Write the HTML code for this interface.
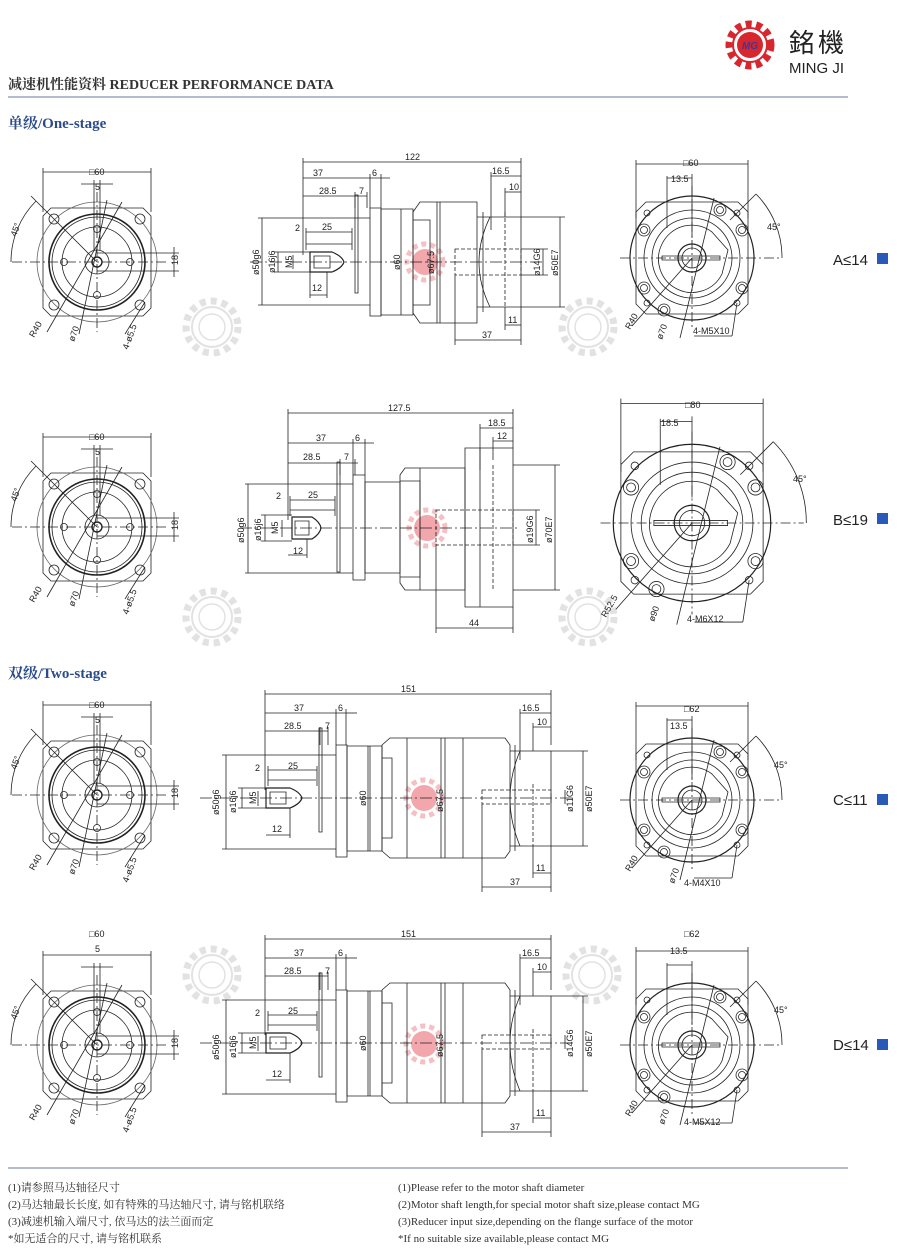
<!DOCTYPE html>
<html><head><meta charset="utf-8"><style>
html,body{margin:0;padding:0;background:#fff}
svg{display:block}
svg *{vector-effect:non-scaling-stroke}
.t{font-family:"Liberation Sans Narrow","Liberation Sans",sans-serif;font-size:9px;fill:#222}
.sf{font-family:"Liberation Serif","Noto Serif CJK SC",serif}
</style></head><body>
<svg width="900" height="1260" viewBox="0 0 900 1260" xmlns="http://www.w3.org/2000/svg">
<defs>
<g id="wm" fill="none" stroke="#e2e2e2">
 <circle r="26" stroke-width="7" stroke-dasharray="6 5"/>
 <circle r="20" stroke-width="2"/>
 <circle r="13" stroke-width="1.5"/>
</g>
<g id="wr" fill="none">
 <circle r="18" stroke="#f4c0c4" stroke-width="5" stroke-dasharray="5 4"/>
 <circle r="13" fill="#f2a7ad" stroke="none"/>
</g>
<g id="front" fill="none" stroke="#222" stroke-width="0.8">
 <line x1="-54" y1="-90" x2="54" y2="-90"/>
 <line x1="-54" y1="-94" x2="-54" y2="-50"/><line x1="54" y1="-94" x2="54" y2="-50"/>
 <path d="M-46,-54 L46,-54 L54,-46 L54,46 L46,54 L-46,54 L-54,46 L-54,-46Z"/>
 <circle r="60" stroke="#666"/>
 <circle r="48" stroke-width="1.6"/>
 <circle r="45"/>
 <circle r="35"/>
 <circle r="12"/>
 <circle r="5" stroke-width="1.4"/>
 <circle cx="-43" cy="-43" r="5"/><circle cx="43" cy="-43" r="5"/><circle cx="-43" cy="43" r="5"/><circle cx="43" cy="43" r="5"/>
 <circle cx="0" cy="-33" r="3.5"/><circle cx="0" cy="33" r="3.5"/><circle cx="-33" cy="0" r="3.5"/><circle cx="33" cy="0" r="3.5"/>
 <line x1="-85" y1="0" x2="70" y2="0" stroke-dasharray="10 3 2 3"/>
 <line x1="0" y1="-70" x2="0" y2="70" stroke-dasharray="10 3 2 3"/>
 <line x1="-3" y1="-82" x2="-3" y2="-12"/><line x1="3" y1="-82" x2="3" y2="-12"/>
 <line x1="-16" y1="-78" x2="16" y2="-78"/>
 <line x1="0" y1="-9" x2="82" y2="-9"/><line x1="0" y1="9" x2="82" y2="9"/>
 <line x1="77" y1="-15" x2="77" y2="15"/>
 <path d="M-86,0 A86,86 0 0 1 -61,-61"/>
 <line x1="0" y1="0" x2="-66" y2="-66"/>
 <line x1="25" y1="-60" x2="-50" y2="70"/>
 <line x1="10" y1="-62" x2="-18" y2="72"/>
 <line x1="48" y1="40" x2="28" y2="72"/>
</g>
<g id="back" fill="none" stroke="#222" stroke-width="0.8">
 <line x1="-56" y1="-94" x2="56" y2="-94"/>
 <line x1="-56" y1="-98" x2="-56" y2="-40"/><line x1="56" y1="-98" x2="56" y2="-40"/>
 <line x1="-25" y1="-80" x2="0" y2="-80"/><line x1="-25" y1="-82" x2="-25" y2="-30"/><line x1="0" y1="-84" x2="0" y2="-20"/>
 <path d="M-46,-56 L46,-56 L56,-46 L56,46 L46,56 L-46,56 L-56,46 L-56,-46Z"/>
 <circle r="62" stroke-width="1.2"/>
 <circle r="48"/>
 <circle r="40"/>
 <path d="M-30,-14 A33,33 0 0 1 20,-26 L36,-8 L30,16 A33,33 0 0 1 -30,-14Z"/>
 <circle r="14" stroke-width="1.2"/>
 <circle r="10"/>
 <rect x="-30" y="-2" width="58" height="4"/>
 <g>
  <circle cx="28" cy="-48" r="6"/><circle cx="28" cy="-48" r="3.5"/>
  <circle cx="50" cy="-28" r="6"/><circle cx="50" cy="-28" r="3.5"/>
  <circle cx="-48" cy="-28" r="6"/><circle cx="-48" cy="-28" r="3.5"/>
  <circle cx="-48" cy="30" r="6"/><circle cx="-48" cy="30" r="3.5"/>
  <circle cx="50" cy="30" r="6"/><circle cx="50" cy="30" r="3.5"/>
  <circle cx="-28" cy="52" r="6"/><circle cx="-28" cy="52" r="3.5"/>
 </g>
 <circle cx="-45" cy="-45" r="3"/><circle cx="45" cy="-45" r="3"/><circle cx="-45" cy="45" r="3"/><circle cx="45" cy="45" r="3"/>
 <line x1="-72" y1="0" x2="88" y2="0" stroke-dasharray="10 3 2 3"/>
 <line x1="0" y1="-72" x2="0" y2="72" stroke-dasharray="10 3 2 3"/>
 <line x1="38" y1="-38" x2="64" y2="-64"/>
 <path d="M64,-64 A90,90 0 0 1 90,0"/>
 <line x1="0" y1="0" x2="-60" y2="68"/>
 <line x1="22" y1="-60" x2="-12" y2="80"/>
 <line x1="45" y1="45" x2="40" y2="78"/><line x1="2" y1="78" x2="40" y2="78"/>
</g>
<g id="s2" fill="none" stroke="#222" stroke-width="0.8">
 <line x1="265" y1="694" x2="551" y2="694"/>
 <line x1="265" y1="690" x2="265" y2="790"/><line x1="551" y1="690" x2="551" y2="745"/>
 <line x1="265" y1="713" x2="346" y2="713"/><line x1="336" y1="709" x2="336" y2="745"/><line x1="346" y1="709" x2="346" y2="745"/><line x1="346" y1="713" x2="357" y2="713"/>
 <line x1="265" y1="731" x2="328" y2="731"/><line x1="320" y1="727" x2="320" y2="745"/><line x1="328" y1="727" x2="328" y2="745"/>
 <rect x="319" y="728" width="3" height="104"/>
 <line x1="222" y1="755" x2="336" y2="755"/><line x1="222" y1="849" x2="336" y2="849"/>
 <line x1="226" y1="755" x2="226" y2="849"/>
 <line x1="238" y1="788" x2="266" y2="788"/><line x1="238" y1="808" x2="266" y2="808"/>
 <line x1="242" y1="788" x2="242" y2="808"/>
 <line x1="258" y1="791" x2="258" y2="806"/>
 <line x1="268" y1="770" x2="317" y2="770"/><line x1="268" y1="766" x2="268" y2="786"/><line x1="317" y1="766" x2="317" y2="786"/>
 <line x1="268" y1="780" x2="316" y2="780"/>
 <path d="M266,788 L290,788 Q300,792 302,798 Q300,804 290,808 L266,808Z" stroke-width="1.2"/>
 <rect x="270" y="792" width="16" height="12"/>
 <line x1="266" y1="835" x2="290" y2="835"/><line x1="290" y1="808" x2="290" y2="838"/>
 <rect x="336" y="745" width="11" height="112"/>
 <rect x="347" y="746" width="35" height="105"/>
 <line x1="370" y1="746" x2="370" y2="851"/>
 <path d="M382,745 L390,738 L505,738 L510,745 L510,851 L505,858 L390,858 L382,851Z"/>
 <path d="M382,758 L392,758 L392,838 L382,838"/>
 <line x1="407" y1="738" x2="407" y2="858"/>
 <line x1="441" y1="738" x2="441" y2="858"/><line x1="463" y1="738" x2="463" y2="858"/>
 <path d="M510,751 L551,751 L551,846 L510,846"/>
 <path d="M520,751 Q500,798 520,846"/>
 <line x1="515" y1="745" x2="515" y2="851"/>
 <rect x="482" y="790" width="69" height="14" stroke-dasharray="4 2"/>
 <line x1="533" y1="784" x2="533" y2="846" stroke-dasharray="4 2"/>
 <line x1="200" y1="798" x2="575" y2="798" stroke-dasharray="12 3 2 3"/>
 <line x1="520" y1="713" x2="551" y2="713"/><line x1="520" y1="709" x2="520" y2="760"/>
 <line x1="533" y1="727" x2="551" y2="727"/><line x1="533" y1="723" x2="533" y2="751"/>
 <line x1="533" y1="873" x2="551" y2="873"/><line x1="533" y1="846" x2="533" y2="878"/><line x1="551" y1="846" x2="551" y2="892"/>
 <line x1="482" y1="887" x2="551" y2="887"/><line x1="482" y1="804" x2="482" y2="892"/>
 <line x1="368" y1="746" x2="368" y2="851"/>
 <line x1="445" y1="738" x2="445" y2="858"/>
 <line x1="565" y1="790" x2="565" y2="804"/>
 <line x1="583" y1="751" x2="583" y2="846"/><line x1="551" y1="751" x2="588" y2="751"/><line x1="551" y1="846" x2="588" y2="846"/>
</g>
</defs>

<!-- header -->
<g transform="translate(750,45)">
 <circle r="21" fill="none" stroke="#d8262e" stroke-width="7" stroke-dasharray="6 4.5"/>
 <circle r="17" fill="none" stroke="#d8262e" stroke-width="2"/>
 <circle r="13" fill="#d8262e"/>
 <text x="0" y="4" text-anchor="middle" font-family="Liberation Sans,sans-serif" font-size="10" font-style="italic" font-weight="bold" fill="#3a3a9a">MG</text>
</g>
<text x="789" y="52" font-family="'Noto Sans CJK TC',sans-serif" font-size="26" fill="#222" letter-spacing="3">銘機</text>
<text x="789" y="73" font-family="Liberation Sans,sans-serif" font-size="15" fill="#222">MING JI</text>
<text x="8" y="89" class="sf" font-size="14" font-weight="bold" fill="#333">减速机性能资料 REDUCER PERFORMANCE DATA</text>
<line x1="8" y1="97" x2="848" y2="97" stroke="#9aa6bd" stroke-width="1.5"/>
<text x="8" y="128" class="sf" font-size="15" font-weight="bold" fill="#2b4c8c">单级/One-stage</text>
<text x="8" y="678" class="sf" font-size="15" font-weight="bold" fill="#2b4c8c">双级/Two-stage</text>

<!-- watermarks -->
<use href="#wm" x="212" y="327"/><use href="#wm" x="588" y="327"/>
<use href="#wm" x="212" y="617"/><use href="#wm" x="588" y="617"/>
<use href="#wm" x="212" y="975"/><use href="#wm" x="592" y="975"/>
<use href="#wr" x="425" y="262"/><use href="#wr" x="427" y="528"/>
<use href="#wr" x="424" y="798"/><use href="#wr" x="424" y="1044"/>

<!-- Row A -->
<use href="#front" x="97" y="262"/>
<g class="t">
 <text x="89" y="175">□60</text><text x="95" y="190">5</text>
 <text transform="translate(178,265) rotate(-90)">18</text>
 <text transform="translate(16,237) rotate(-70)">45°</text>
 <text transform="translate(34,338) rotate(-60)">R40</text>
 <text transform="translate(74,342) rotate(-70)">ø70</text>
 <text transform="translate(128,350) rotate(-70)">4-ø5.5</text>
</g>
<g fill="none" stroke="#222" stroke-width="0.8">
 <line x1="303" y1="162" x2="521" y2="162"/><line x1="303" y1="158" x2="303" y2="255"/><line x1="521" y1="158" x2="521" y2="217"/>
 <line x1="303" y1="178" x2="390" y2="178"/><line x1="370" y1="174" x2="370" y2="208"/><line x1="381" y1="174" x2="381" y2="208"/>
 <line x1="303" y1="196" x2="367" y2="196"/><line x1="355" y1="192" x2="355" y2="208"/><line x1="367" y1="192" x2="367" y2="208"/>
 <rect x="355" y="195" width="3" height="98"/>
 <line x1="258" y1="218" x2="370" y2="218"/><line x1="258" y1="305" x2="370" y2="305"/><line x1="262" y1="218" x2="262" y2="305"/>
 <line x1="274" y1="252" x2="310" y2="252"/><line x1="274" y1="272" x2="310" y2="272"/><line x1="278" y1="252" x2="278" y2="272"/>
 <line x1="293" y1="255" x2="293" y2="269"/>
 <line x1="306" y1="232" x2="352" y2="232"/><line x1="306" y1="228" x2="306" y2="250"/><line x1="352" y1="228" x2="352" y2="250"/>
 <line x1="306" y1="244" x2="352" y2="244"/>
 <path d="M310,252 L332,252 Q342,256 344,262 Q342,268 332,272 L310,272Z" stroke-width="1.2"/>
 <rect x="314" y="256" width="16" height="12"/>
 <line x1="310" y1="295" x2="327" y2="295"/><line x1="327" y1="272" x2="327" y2="298"/><line x1="310" y1="272" x2="310" y2="298"/>
 <rect x="370" y="208" width="11" height="108"/>
 <rect x="381" y="209" width="32" height="106"/>
 <line x1="401" y1="209" x2="401" y2="315"/>
 <path d="M413,212 L420,202 L477,202 L477,323 L420,323 L413,313Z"/>
 <path d="M413,220 L430,220 L430,305 L413,305"/>
 <line x1="437" y1="202" x2="437" y2="323"/><line x1="440" y1="202" x2="440" y2="323"/>
 <path d="M477,217 L521,217 L521,307 L477,307"/>
 <path d="M490,217 Q468,262 490,307"/>
 <line x1="483" y1="212" x2="483" y2="312"/>
 <rect x="455" y="249" width="66" height="26" stroke-dasharray="4 2"/>
 <line x1="505" y1="212" x2="505" y2="307" stroke-dasharray="4 2"/>
 <line x1="250" y1="262" x2="545" y2="262" stroke-dasharray="12 3 2 3"/>
 <line x1="491" y1="176" x2="521" y2="176"/><line x1="491" y1="172" x2="491" y2="230"/>
 <line x1="505" y1="192" x2="521" y2="192"/><line x1="505" y1="188" x2="505" y2="217"/>
 <line x1="505" y1="325" x2="521" y2="325"/><line x1="505" y1="307" x2="505" y2="330"/><line x1="521" y1="307" x2="521" y2="345"/>
 <line x1="455" y1="340" x2="521" y2="340"/><line x1="455" y1="275" x2="455" y2="345"/>
 <line x1="543" y1="249" x2="543" y2="275"/><line x1="521" y1="249" x2="548" y2="249"/><line x1="521" y1="275" x2="548" y2="275"/>
 <line x1="560" y1="217" x2="560" y2="307"/><line x1="521" y1="217" x2="565" y2="217"/><line x1="521" y1="307" x2="565" y2="307"/>
</g>
<g class="t">
 <text x="405" y="160">122</text><text x="313" y="176">37</text><text x="372" y="176">6</text>
 <text x="319" y="194">28.5</text><text x="359" y="194">7</text>
 <text x="295" y="231">2</text><text x="322" y="230">25</text><text x="312" y="291">12</text>
 <text x="492" y="174">16.5</text><text x="509" y="190">10</text><text x="508" y="323">11</text><text x="482" y="338">37</text>
 <text transform="translate(259,275) rotate(-90)">ø50g6</text>
 <text transform="translate(275,273) rotate(-90)">ø16j6</text>
 <text transform="translate(292,268) rotate(-90)">M5</text>
 <text transform="translate(400,270) rotate(-90)">ø60</text>
 <text transform="translate(434,274) rotate(-90)">ø67.5</text>
 <text transform="translate(540,276) rotate(-90)">ø14G6</text>
 <text transform="translate(558,276) rotate(-90)">ø50E7</text>
</g>
<use href="#back" x="692" y="258"/>
<g class="t">
 <text x="683" y="166">□60</text><text x="671" y="182">13.5</text>
 <text x="767" y="230">45°</text>
 <text transform="translate(630,330) rotate(-60)">R40</text>
 <text transform="translate(662,340) rotate(-70)">ø70</text>
 <text x="693" y="334">4-M5X10</text>
</g>
<text x="833" y="265" font-family="Liberation Sans,sans-serif" font-size="15" fill="#222">A≤14</text>
<rect x="877" y="253" width="11" height="11" fill="#2a5ab8"/>

<!-- Row B -->
<use href="#front" x="97" y="527"/>
<g class="t">
 <text x="89" y="440">□60</text><text x="95" y="455">5</text>
 <text transform="translate(178,530) rotate(-90)">18</text>
 <text transform="translate(16,502) rotate(-70)">45°</text>
 <text transform="translate(34,603) rotate(-60)">R40</text>
 <text transform="translate(74,607) rotate(-70)">ø70</text>
 <text transform="translate(128,615) rotate(-70)">4-ø5.5</text>
</g>
<g fill="none" stroke="#222" stroke-width="0.8">
 <line x1="288" y1="413" x2="513" y2="413"/><line x1="288" y1="409" x2="288" y2="520"/><line x1="513" y1="409" x2="513" y2="448"/>
 <line x1="288" y1="443" x2="374" y2="443"/><line x1="353" y1="439" x2="353" y2="475"/><line x1="365" y1="439" x2="365" y2="475"/>
 <line x1="288" y1="463" x2="358" y2="463"/><line x1="340" y1="459" x2="340" y2="475"/><line x1="355" y1="459" x2="355" y2="475"/>
 <rect x="337" y="462" width="3" height="110"/>
 <line x1="245" y1="484" x2="353" y2="484"/><line x1="245" y1="573" x2="353" y2="573"/><line x1="248" y1="484" x2="248" y2="573"/>
 <line x1="261" y1="515" x2="292" y2="515"/><line x1="261" y1="541" x2="292" y2="541"/><line x1="265" y1="515" x2="265" y2="541"/>
 <line x1="282" y1="520" x2="282" y2="537"/>
 <line x1="290" y1="500" x2="335" y2="500"/><line x1="290" y1="496" x2="290" y2="516"/><line x1="335" y1="496" x2="335" y2="516"/>
 <line x1="290" y1="510" x2="335" y2="510"/>
 <path d="M292,517 L312,517 Q320,522 321,528 Q320,534 312,539 L292,539Z" stroke-width="1.2"/>
 <rect x="295" y="521" width="14" height="14"/>
 <line x1="288" y1="555" x2="307" y2="555"/><line x1="307" y1="539" x2="307" y2="558"/>
 <rect x="353" y="475" width="12" height="105"/>
 <rect x="365" y="482" width="35" height="91"/>
 <path d="M400,475 L405,468 L465,468 L465,590 L405,590 L400,583Z"/>
 <path d="M400,481 L420,481 L420,577 L400,577"/>
 <line x1="420" y1="468" x2="420" y2="590"/>
 <path d="M465,448 L513,448 L513,607 L465,607Z"/>
 <line x1="480" y1="448" x2="480" y2="607"/>
 <rect x="436" y="510" width="77" height="35" stroke-dasharray="4 2"/>
 <line x1="493" y1="465" x2="493" y2="590" stroke-dasharray="4 2"/>
 <line x1="240" y1="528" x2="520" y2="528" stroke-dasharray="12 3 2 3"/>
 <line x1="480" y1="428" x2="513" y2="428"/><line x1="480" y1="424" x2="480" y2="470"/>
 <line x1="493" y1="441" x2="513" y2="441"/><line x1="493" y1="437" x2="493" y2="460"/>
 <line x1="436" y1="628" x2="513" y2="628"/><line x1="436" y1="545" x2="436" y2="633"/><line x1="513" y1="607" x2="513" y2="633"/>
 <line x1="536" y1="510" x2="536" y2="545"/><line x1="513" y1="510" x2="540" y2="510"/><line x1="513" y1="545" x2="540" y2="545"/>
 <line x1="555" y1="465" x2="555" y2="590"/><line x1="513" y1="465" x2="560" y2="465"/><line x1="513" y1="590" x2="560" y2="590"/>
</g>
<g class="t">
 <text x="388" y="411">127.5</text><text x="316" y="441">37</text><text x="355" y="441">6</text>
 <text x="303" y="460">28.5</text><text x="344" y="460">7</text>
 <text x="276" y="499">2</text><text x="308" y="498">25</text><text x="293" y="554">12</text>
 <text x="488" y="426">18.5</text><text x="497" y="439">12</text><text x="469" y="626">44</text>
 <text transform="translate(244,543) rotate(-90)">ø50g6</text>
 <text transform="translate(261,541) rotate(-90)">ø16j6</text>
 <text transform="translate(278,534) rotate(-90)">M5</text>
 <text transform="translate(533,543) rotate(-90)">ø19G6</text>
 <text transform="translate(552,543) rotate(-90)">ø70E7</text>
</g>
<g transform="translate(692,523) scale(1.27)"><use href="#back"/></g>
<g class="t">
 <text x="685" y="408">□80</text><text x="661" y="426">18.5</text>
 <text x="793" y="482">45°</text>
 <text transform="translate(606,618) rotate(-60)">R52.5</text>
 <text transform="translate(654,622) rotate(-70)">ø90</text>
 <text x="687" y="622">4-M6X12</text>
</g>
<text x="833" y="525" font-family="Liberation Sans,sans-serif" font-size="15" fill="#222">B≤19</text>
<rect x="877" y="513" width="11" height="11" fill="#2a5ab8"/>

<!-- Row C -->
<use href="#front" x="97" y="795"/>
<g class="t">
 <text x="89" y="708">□60</text><text x="95" y="723">5</text>
 <text transform="translate(178,798) rotate(-90)">18</text>
 <text transform="translate(16,770) rotate(-70)">45°</text>
 <text transform="translate(34,871) rotate(-60)">R40</text>
 <text transform="translate(74,875) rotate(-70)">ø70</text>
 <text transform="translate(128,883) rotate(-70)">4-ø5.5</text>
</g>
<use href="#s2"/>
<g class="t">
 <text x="401" y="692">151</text><text x="294" y="711">37</text><text x="338" y="711">6</text>
 <text x="284" y="729">28.5</text><text x="325" y="729">7</text>
 <text x="255" y="771">2</text><text x="288" y="769">25</text><text x="272" y="832">12</text>
 <text x="522" y="711">16.5</text><text x="537" y="725">10</text><text x="536" y="871">11</text><text x="510" y="885">37</text>
 <text transform="translate(219,815) rotate(-90)">ø50g6</text>
 <text transform="translate(236,813) rotate(-90)">ø16j6</text>
 <text transform="translate(256,804) rotate(-90)">M5</text>
 <text transform="translate(366,806) rotate(-90)">ø60</text>
 <text transform="translate(443,812) rotate(-90)">ø67.5</text>
 <text transform="translate(573,812) rotate(-90)">ø11G6</text>
 <text transform="translate(592,812) rotate(-90)">ø50E7</text>
</g>
<use href="#back" x="692" y="800"/>
<g class="t">
 <text x="684" y="712">□62</text><text x="670" y="729">13.5</text>
 <text x="774" y="768">45°</text>
 <text transform="translate(630,872) rotate(-60)">R40</text>
 <text transform="translate(674,884) rotate(-70)">ø70</text>
 <text x="684" y="886">4-M4X10</text>
</g>
<text x="833" y="805" font-family="Liberation Sans,sans-serif" font-size="15" fill="#222">C≤11</text>
<rect x="877" y="794" width="11" height="11" fill="#2a5ab8"/>

<!-- Row D -->
<use href="#front" x="97" y="1045"/>
<g class="t">
 <text x="89" y="937">□60</text><text x="95" y="952">5</text>
 <text transform="translate(178,1048) rotate(-90)">18</text>
 <text transform="translate(16,1020) rotate(-70)">45°</text>
 <text transform="translate(34,1121) rotate(-60)">R40</text>
 <text transform="translate(74,1125) rotate(-70)">ø70</text>
 <text transform="translate(128,1133) rotate(-70)">4-ø5.5</text>
</g>
<use href="#s2" y="245"/>
<g class="t">
 <text x="401" y="937">151</text><text x="294" y="956">37</text><text x="338" y="956">6</text>
 <text x="284" y="974">28.5</text><text x="325" y="974">7</text>
 <text x="255" y="1016">2</text><text x="288" y="1014">25</text><text x="272" y="1077">12</text>
 <text x="522" y="956">16.5</text><text x="537" y="970">10</text><text x="536" y="1116">11</text><text x="510" y="1130">37</text>
 <text transform="translate(219,1060) rotate(-90)">ø50g6</text>
 <text transform="translate(236,1058) rotate(-90)">ø16j6</text>
 <text transform="translate(256,1049) rotate(-90)">M5</text>
 <text transform="translate(366,1051) rotate(-90)">ø60</text>
 <text transform="translate(443,1057) rotate(-90)">ø67.5</text>
 <text transform="translate(573,1057) rotate(-90)">ø14G6</text>
 <text transform="translate(592,1057) rotate(-90)">ø50E7</text>
</g>
<use href="#back" x="692" y="1045"/>
<g class="t">
 <text x="684" y="937">□62</text><text x="670" y="954">13.5</text>
 <text x="774" y="1013">45°</text>
 <text transform="translate(630,1117) rotate(-60)">R40</text>
 <text transform="translate(664,1125) rotate(-70)">ø70</text>
 <text x="684" y="1125">4-M5X12</text>
</g>
<text x="833" y="1050" font-family="Liberation Sans,sans-serif" font-size="15" fill="#222">D≤14</text>
<rect x="877" y="1039" width="11" height="11" fill="#2a5ab8"/>

<!-- footer -->
<line x1="8" y1="1168" x2="848" y2="1168" stroke="#9aa6bd" stroke-width="1.5"/>
<g class="sf" font-size="11" fill="#333">
 <text x="8" y="1191">(1)请参照马达轴径尺寸</text>
 <text x="8" y="1208">(2)马达轴最长长度, 如有特殊的马达轴尺寸, 请与铭机联络</text>
 <text x="8" y="1225">(3)减速机输入端尺寸, 依马达的法兰面而定</text>
 <text x="8" y="1242">*如无适合的尺寸, 请与铭机联系</text>
 <text x="398" y="1191">(1)Please refer to the motor shaft diameter</text>
 <text x="398" y="1208">(2)Motor shaft length,for special motor shaft size,please contact MG</text>
 <text x="398" y="1225">(3)Reducer input size,depending on the flange surface of the motor</text>
 <text x="398" y="1242">*If no suitable size available,please contact MG</text>
</g>
</svg>
</body></html>
